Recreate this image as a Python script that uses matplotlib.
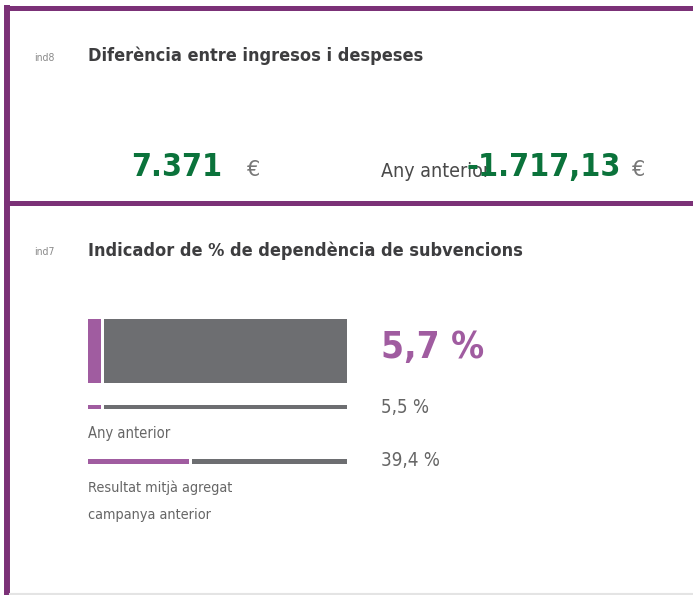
import matplotlib
matplotlib.use("Agg")
import matplotlib.pyplot as plt

# data
ind8_label = "ind8"
ind8_title = "Diferència entre ingresos i despeses"
ind8_value = "7.371"
ind8_prev = "-1.717,13"

ind7_label = "ind7"
ind7_title = "Indicador de % de dependència de subvencions"
ind7_values = [5.7, 5.5, 39.4]
ind7_texts = ["5,7 %", "5,5 %", "39,4 %"]

PURPLE_LINE = "#7b3177"
PURPLE = "#a05ca0"
GREY_BAR = "#6d6e71"
GREEN = "#0b733b"
DARK = "#3d3d3f"
MID = "#666666"

W, H = 693, 595
fig = plt.figure(figsize=(W / 100, H / 100), dpi=100)
bg = fig.add_axes([0, 0, 1, 1])
bg.set_xlim(0, W)
bg.set_ylim(H, 0)
bg.axis("off")

# panel borders
bg.plot([4, W], [7.5, 7.5], color=PURPLE_LINE, lw=3.6, solid_capstyle="butt")
bg.plot([7, 7], [5, H], color=PURPLE_LINE, lw=4.3, solid_capstyle="butt")
bg.plot([4, W], [202.5, 202.5], color=PURPLE_LINE, lw=3.6, solid_capstyle="butt")
bg.plot([10, W], [593.5, 593.5], color="#e4e4e4", lw=1.5)

cond = dict(family="DejaVu Sans", fontstretch="condensed")

# ind8 panel
bg.text(34, 61, ind8_label, fontsize=7.5, color="#8a8a8a", va="baseline", **cond)
bg.text(88, 61, ind8_title, fontsize=13, fontweight="bold", color=DARK, va="baseline", **cond)
bg.text(131, 176, ind8_value, fontsize=23, fontweight="bold", color=GREEN, va="baseline", **cond)
bg.text(247, 176, "€", fontsize=15, color="#777777", va="baseline")
bg.text(381, 177, "Any anterior", fontsize=14, color="#4a4a4a", va="baseline", **cond)
bg.text(466, 176, ind8_prev, fontsize=23, fontweight="bold", color=GREEN, va="baseline", zorder=5, **cond)
bg.text(632, 176, "€", fontsize=15, color="#777777", va="baseline")

# ind7 panel
bg.text(34, 255, ind7_label, fontsize=7.5, color="#8a8a8a", va="baseline", **cond)
bg.text(88, 256, ind7_title, fontsize=13, fontweight="bold", color=DARK, va="baseline", **cond)

bg.text(381, 358, ind7_texts[0], fontsize=26.5, fontweight="bold", color=PURPLE, va="baseline", **cond)
bg.text(381, 413, ind7_texts[1], fontsize=13.5, color=MID, va="baseline", **cond)
bg.text(381, 466, ind7_texts[2], fontsize=13.5, color=MID, va="baseline", **cond)
bg.text(88, 438, "Any anterior", fontsize=10.5, color=MID, va="baseline", **cond)
bg.text(88, 492, "Resultat mitjà agregat", fontsize=10.4, color=MID, va="baseline", **cond)
bg.text(88, 519, "campanya anterior", fontsize=10.4, color=MID, va="baseline", **cond)

# bars (x in percent)
x0, x1 = 88, 347
y_top, y_bot = 300, 480
bax = fig.add_axes([x0 / W, 1 - y_bot / H, (x1 - x0) / W, (y_bot - y_top) / H])
bax.set_xlim(0, 100)
bax.set_ylim(y_bot, y_top)
bax.axis("off")

rows_y = [351, 407, 461.5]
rows_h = [64, 4, 5]
gap = 1.5 / (x1 - x0) * 100 * 2
for v, yc, hh in zip(ind7_values, rows_y, rows_h):
    bax.barh(yc, v - gap / 2, height=hh, left=0, color=PURPLE)
    bax.barh(yc, 100 - v - gap / 2, height=hh, left=v + gap / 2, color=GREY_BAR)

fig.savefig("out.png", dpi=100)
